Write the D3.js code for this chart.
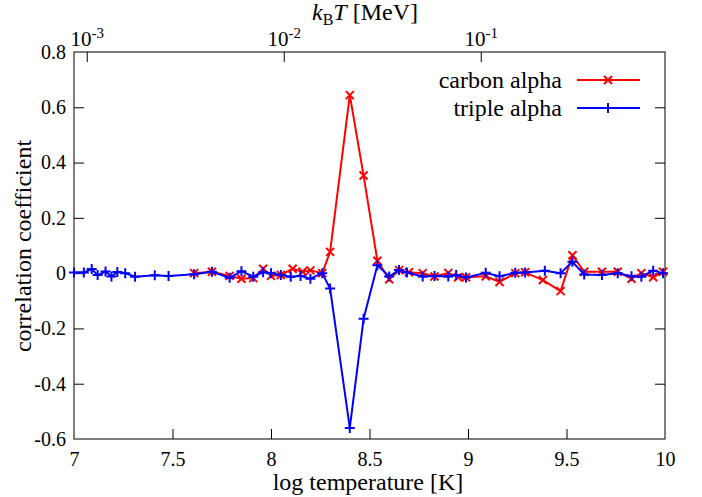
<!DOCTYPE html>
<html><head><meta charset="utf-8">
<script src="https://cdn.jsdelivr.net/npm/d3@7"></script>
<style>body{margin:0;background:#fff}svg{display:block}text{font-family:"Liberation Serif",serif;fill:#000}</style>
</head><body><svg id="c" width="702" height="497"></svg>
<script>
const carbonLogT = [7.61,7.70,7.79,7.85,7.91,7.96,8.00,8.05,8.11,8.16,8.20,8.26,8.30,8.40,8.47,8.54,8.60,8.65,8.70,8.77,8.83,8.90,8.95,8.99,9.09,9.16,9.24,9.29,9.38,9.47,9.53,9.59,9.68,9.76,9.83,9.88,9.94,9.99];
const carbonR    = [0.000,0.005,-0.010,-0.020,-0.018,0.016,-0.010,-0.007,0.016,0.005,0.010,0.000,0.077,0.644,0.353,0.045,-0.022,0.011,0.003,0.000,-0.012,0.001,-0.015,-0.015,-0.011,-0.032,0.000,0.003,-0.025,-0.065,0.065,0.005,0.005,0.005,-0.020,0.000,-0.015,0.005];
const tripleLogT = [7.00,7.05,7.09,7.12,7.16,7.19,7.22,7.26,7.31,7.41,7.48,7.61,7.70,7.79,7.85,7.91,7.96,8.00,8.05,8.10,8.15,8.20,8.26,8.30,8.40,8.47,8.54,8.60,8.65,8.69,8.77,8.83,8.90,8.94,8.99,9.09,9.16,9.24,9.29,9.39,9.47,9.53,9.59,9.68,9.76,9.83,9.88,9.94,9.99];
const tripleR    = [0.002,0.002,0.015,-0.007,0.006,-0.012,0.004,0.000,-0.013,-0.008,-0.010,-0.004,0.005,-0.017,0.007,-0.013,0.003,0.000,-0.007,-0.013,-0.010,-0.020,0.000,-0.056,-0.560,-0.165,0.029,-0.012,0.011,0.002,-0.012,-0.010,-0.012,-0.007,-0.016,0.001,-0.011,0.001,0.002,0.009,0.000,0.041,-0.005,-0.007,0.000,-0.011,-0.013,0.009,0.000];
const xTicks = [7,7.5,8,8.5,9,9.5,10];
const xTickLabels = ["7","7.5","8","8.5","9","9.5","10"];
const yTicks = [-0.6,-0.4,-0.2,0,0.2,0.4,0.6,0.8];
const yTickLabels = ["-0.6","-0.4","-0.2","0","0.2","0.4","0.6","0.8"];
const topTickExp = [-3,-2,-1];
const kB = 8.617e-11; // MeV/K
const seriesNames = ["carbon alpha","triple alpha"];

const svg = d3.select("#c");
const L=74,R=665,T=52,B=439;
const x = d3.scaleLinear().domain([7,10]).range([L,R]);
const y = d3.scaleLinear().domain([-0.6,0.8]).range([B,T]);
const xTop = d3.scaleLog().domain([kB*1e7,kB*1e10]).range([L,R]);
const tl = 10;

const gB = svg.append("g").attr("transform",`translate(0,${B})`)
  .call(d3.axisBottom(x).tickValues(xTicks).tickSize(-tl).tickPadding(13).tickFormat((d,i)=>xTickLabels[i]));
const gL = svg.append("g").attr("transform",`translate(${L},0)`)
  .call(d3.axisLeft(y).tickValues(yTicks).tickSize(-tl).tickPadding(8).tickFormat((d,i)=>yTickLabels[i]));
const gR = svg.append("g").attr("transform",`translate(${R},0)`)
  .call(d3.axisRight(y).tickValues(yTicks).tickSize(-tl).tickFormat(""));
const gT = svg.append("g").attr("transform",`translate(0,${T})`)
  .call(d3.axisTop(xTop).tickValues(topTickExp.map(e=>Math.pow(10,e))).tickSize(-tl).tickFormat(""));
[gB,gL,gR,gT].forEach(g=>{g.select(".domain").remove();g.selectAll("line").attr("stroke","#000").attr("stroke-width",1);
  g.selectAll("text").style("font-family","Liberation Serif").style("font-size","20px");});
gB.selectAll(".tick line").filter((d,i)=>i===0||i===xTicks.length-1).remove();
gL.selectAll(".tick line").filter((d,i)=>i===0||i===yTicks.length-1).remove();
gR.selectAll(".tick line").filter((d,i)=>i===0||i===yTicks.length-1).remove();

gT.selectAll(".tick").each(function(d,i){
  const t = d3.select(this).append("text").attr("y",-6).attr("text-anchor","middle").style("font-size","21px");
  t.append("tspan").text("10");
  t.append("tspan").attr("dy",-8).style("font-size","15px").text(topTickExp[i]);
});

svg.append("rect").attr("x",L).attr("y",T).attr("width",R-L).attr("height",B-T).attr("fill","none").attr("stroke","#000").attr("stroke-width",1);

svg.append("text").attr("x",368).attr("y",490).attr("text-anchor","middle").style("font-size","24px").text("log temperature [K]");
svg.append("text").attr("transform","translate(31,246) rotate(-90)").attr("text-anchor","middle").style("font-size","24px").text("correlation coefficient");
const tt = svg.append("text").attr("x",365).attr("y",20).attr("text-anchor","middle").style("font-size","24px");
tt.append("tspan").style("font-style","italic").text("k");
tt.append("tspan").attr("dy",5).style("font-size","16px").text("B");
tt.append("tspan").attr("dy",-5).style("font-style","italic").text("T");
tt.append("tspan").text(" [MeV]");

function crossX(g,cx,cy,col){const s=4;g.append("path").attr("d",`M${cx-s},${cy-s}L${cx+s},${cy+s}M${cx-s},${cy+s}L${cx+s},${cy-s}`).attr("stroke",col).attr("stroke-width",2).attr("fill","none");}
function plus(g,cx,cy,col){const s=5;g.append("path").attr("d",`M${cx-s},${cy}L${cx+s},${cy}M${cx},${cy-s}L${cx},${cy+s}`).attr("stroke",col).attr("stroke-width",2).attr("fill","none");}

const line = d3.line().x(d=>x(d[0])).y(d=>y(d[1]));
function drawSeries(xs,ys,col,mk){
  const data = xs.map((v,i)=>[v,ys[i]]);
  const g = svg.append("g");
  g.append("path").datum(data).attr("d",line).attr("fill","none").attr("stroke",col).attr("stroke-width",2).attr("stroke-linejoin","round");
  data.forEach(d=>mk(g,x(d[0]),y(d[1]),col));
}
drawSeries(carbonLogT,carbonR,"#ff0000",crossX);
drawSeries(tripleLogT,tripleR,"#0000ff",plus);

const leg = [{n:seriesNames[0],c:"#ff0000",m:crossX,y:80},{n:seriesNames[1],c:"#0000ff",m:plus,y:108}];
leg.forEach(l=>{
  svg.append("text").attr("x",562).attr("y",l.y).attr("dy","0.33em").attr("text-anchor","end").style("font-size","24px").text(l.n);
  svg.append("line").attr("x1",577).attr("x2",640).attr("y1",l.y).attr("y2",l.y).attr("stroke",l.c).attr("stroke-width",2);
  l.m(svg,608,l.y,l.c);
});
</script></body></html>
